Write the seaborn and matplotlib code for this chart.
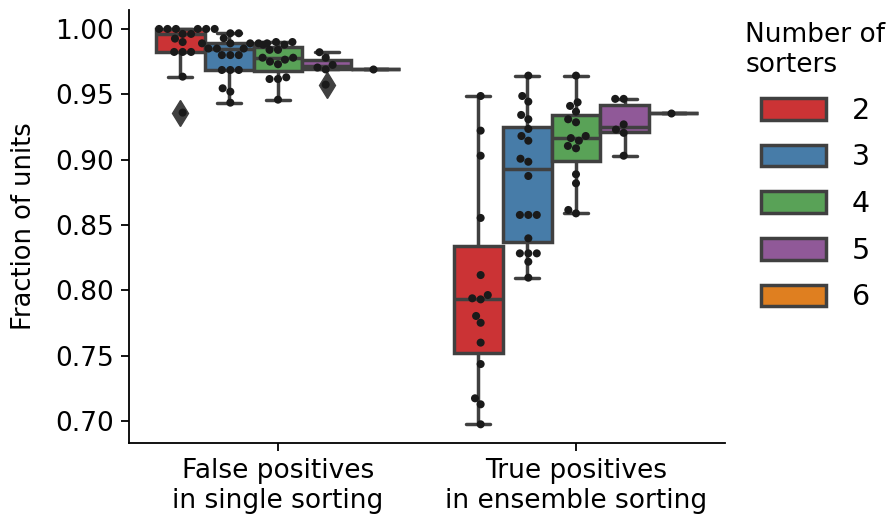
import numpy as np
import pandas as pd
import matplotlib
matplotlib.use("Agg")
import matplotlib.pyplot as plt
import seaborn as sns

categories = ["False positives\nin single sorting", "True positives\nin ensemble sorting"]
hue_levels = ["2", "3", "4", "5", "6"]

# False positives in single sorting
fp_2 = [1.0, 1.0, 1.0, 1.0, 1.0, 1.0, 0.9962, 0.9962, 0.9926, 0.990,
        0.9824, 0.9824, 0.9824, 0.9635, 0.936]
fp_3 = [0.9967, 0.9967, 0.9929, 0.989, 0.989, 0.989, 0.989, 0.989,
        0.985, 0.985, 0.985, 0.980, 0.980, 0.980, 0.9686, 0.9686, 0.9686,
        0.9546, 0.952, 0.9436]
fp_4 = [0.990, 0.990, 0.988, 0.988, 0.984, 0.984, 0.978, 0.978, 0.9765,
        0.975, 0.973, 0.963, 0.9617, 0.9617, 0.9459]
fp_5 = [0.9822, 0.978, 0.9725, 0.9705, 0.969, 0.9574]
fp_6 = [0.9695]

# True positives in ensemble sorting
tp_2 = [0.9487, 0.9222, 0.903, 0.8554, 0.8117, 0.7964, 0.7939, 0.7931,
        0.7804, 0.7752, 0.760, 0.7436, 0.7174, 0.7128, 0.6975]
tp_3 = [0.9643, 0.9487, 0.9444, 0.9342, 0.9309, 0.9235, 0.9181, 0.9145,
        0.9007, 0.8984, 0.8875, 0.8577, 0.8577, 0.8577, 0.8398, 0.8283,
        0.8283, 0.8283, 0.8219, 0.8097]
tp_4 = [0.9643, 0.9439, 0.9411, 0.9367, 0.9309, 0.9286, 0.9181, 0.9165,
        0.9145, 0.9105, 0.9087, 0.8888, 0.8819, 0.8615, 0.8589]
tp_5 = [0.9465, 0.9465, 0.927, 0.923, 0.9205, 0.903]
tp_6 = [0.9355]

rows = []
for cat, series in zip(categories, [[fp_2, fp_3, fp_4, fp_5, fp_6],
                                    [tp_2, tp_3, tp_4, tp_5, tp_6]]):
    for lvl, vals in zip(hue_levels, series):
        for v in vals:
            rows.append({"kind": cat, "n": lvl, "frac": v})
df = pd.DataFrame(rows)

sns.set_style("ticks")
plt.rcParams['font.family'] = ['DejaVu Sans']
for k in ["text.color", "axes.labelcolor", "xtick.color", "ytick.color", "axes.edgecolor"]:
    plt.rcParams[k] = "black"

fig = plt.figure(figsize=(8.96, 5.21), dpi=100)
ax = fig.add_axes([129/896, 1 - 443/521, (725-129)/896, (443-10)/521])

line_c = "#404040"
sns.boxplot(data=df, x="kind", y="frac", hue="n", order=categories,
            hue_order=hue_levels, palette="Set1", saturation=0.75,
            linewidth=2.5, linecolor=line_c, width=0.82, ax=ax,
            flierprops=dict(marker="d", markersize=13, markerfacecolor=line_c,
                            markeredgecolor=line_c))
sns.swarmplot(data=df, x="kind", y="frac", hue="n", order=categories,
              hue_order=hue_levels, palette={h: "#1a1a1a" for h in hue_levels},
              dodge=True, size=5.8, ax=ax, legend=False)

ax.set_xlim(-0.5, 1.5)
ax.set_ylim(0.6832, 1.0145)
yt = [0.70, 0.75, 0.80, 0.85, 0.90, 0.95, 1.00]
ax.set_yticks(yt)
ax.set_yticklabels([f"{t:.2f}" for t in yt])
ax.set_xlabel("")
ax.set_ylabel("Fraction of units", fontsize=18.5)
ax.yaxis.set_label_coords(-0.154, 0.5)
ax.tick_params(axis="y", labelsize=19, length=6, width=1.3, pad=5)
ax.tick_params(axis="x", labelsize=19, length=6, width=1.3, pad=5)
for s in ["left", "bottom"]:
    ax.spines[s].set_linewidth(1.3)
sns.despine(ax=ax)

handles, labels = ax.get_legend_handles_labels()
if ax.get_legend() is not None:
    ax.get_legend().remove()
leg = ax.legend(handles[:5], labels[:5], title="Number of\nsorters",
                loc="upper left", bbox_to_anchor=(1.034, 0.972), frameon=False,
                fontsize=20.5, title_fontsize=19, handlelength=2.3,
                handleheight=0.8, handletextpad=0.9, labelspacing=0.655,
                borderpad=0, borderaxespad=0, alignment="center")
leg.get_title().set_multialignment("left")

fig.savefig("out.png", dpi=100)
